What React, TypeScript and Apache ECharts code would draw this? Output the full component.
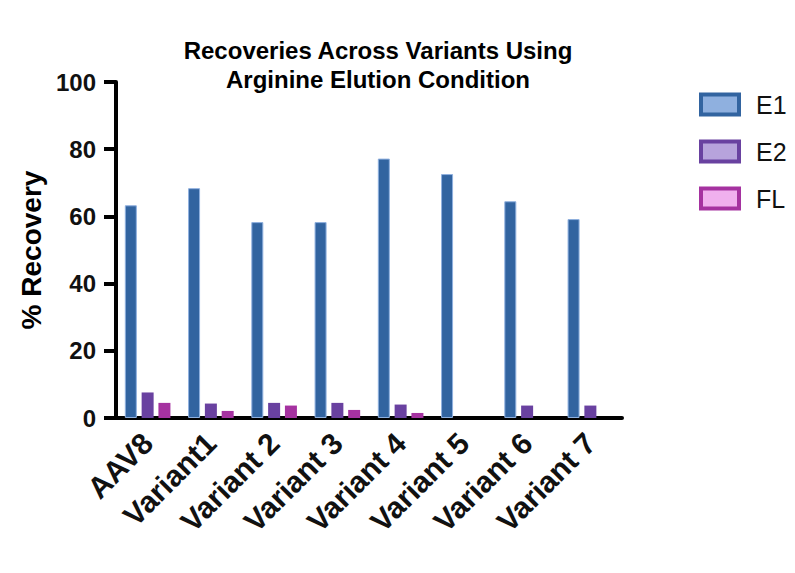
import React, { useEffect, useRef } from 'react'
import * as echarts from 'echarts'

const categories = ['AAV8', 'Variant1', 'Variant 2', 'Variant 3', 'Variant 4', 'Variant 5', 'Variant 6', 'Variant 7']
const e1Values = [63.3, 68.4, 58.3, 58.3, 77.2, 72.6, 64.5, 59.2]
const e2Values = [7.6, 4.3, 4.5, 4.5, 4.0, 0, 3.7, 3.7]
const flValues = [4.5, 2.1, 3.7, 2.4, 1.5, 0, 0, 0]
const yTicks = { min: 0, max: 100, interval: 20 }

const FONT = '"Liberation Sans", Arial, sans-serif'

const App = () => {
  const chartRef = useRef<HTMLDivElement>(null)

  useEffect(() => {
    if (!chartRef.current) return
    const chart = echarts.init(chartRef.current, undefined, { renderer: 'svg' })

    const barSeries = (name: string, data: number[], color: string, border?: string) => ({
      name,
      type: 'bar' as const,
      data,
      barWidth: 12,
      barGap: '40%',
      itemStyle: {
        color,
        borderColor: border || color,
        borderWidth: border ? 1 : 0,
      },
    })

    chart.setOption({
      animation: false,
      backgroundColor: '#ffffff',
      textStyle: { fontFamily: FONT },
      title: {
        text: 'Recoveries Across Variants Using\nArginine Elution Condition',
        left: 378,
        top: 36,
        padding: 0,
        textAlign: 'center',
        textStyle: { fontFamily: FONT, fontSize: 24, fontWeight: 'bold', color: '#000', lineHeight: 29 },
      },
      legend: {
        orient: 'vertical',
        left: 699,
        top: 92,
        padding: 0,
        itemWidth: 38,
        itemHeight: 20,
        itemGap: 22,
        icon: 'rect',
        textStyle: { fontFamily: FONT, fontSize: 25, color: '#111', padding: [0, 0, 0, 12] },
        data: [
          { name: 'E1', itemStyle: { color: '#8fb0df', borderColor: '#3264a0', borderWidth: 4 } },
          { name: 'E2', itemStyle: { color: '#b7a3dc', borderColor: '#6941a0', borderWidth: 4 } },
          { name: 'FL', itemStyle: { color: '#f0b0ee', borderColor: '#a532a0', borderWidth: 4 } },
        ],
      },
      grid: { left: 116, right: 173, top: 82, bottom: 155 },
      xAxis: {
        type: 'category',
        data: categories,
        axisLine: { lineStyle: { color: '#000', width: 4 } },
        axisTick: { alignWithLabel: true, length: 12, lineStyle: { color: '#000', width: 4 } },
        axisLabel: {
          rotate: 45,
          interval: 0,
          margin: 20,
          fontFamily: FONT,
          fontSize: 30,
          fontWeight: 'bold',
          color: '#111',
        },
      },
      yAxis: {
        type: 'value',
        min: yTicks.min,
        max: yTicks.max,
        interval: yTicks.interval,
        name: '% Recovery',
        nameLocation: 'middle',
        nameGap: 70,
        nameTextStyle: { fontFamily: FONT, fontSize: 28, fontWeight: 'bold', color: '#000' },
        axisLine: { show: true, lineStyle: { color: '#000', width: 4 } },
        axisTick: { show: true, length: 12, lineStyle: { color: '#000', width: 4 } },
        splitLine: { show: false },
        axisLabel: { margin: 20, fontFamily: FONT, fontSize: 24, fontWeight: 'bold', color: '#111' },
      },
      series: [
        barSeries('E1', e1Values, '#3264a0', '#8fb0df'),
        barSeries('E2', e2Values, '#6941a0'),
        barSeries('FL', flValues, '#a532a0'),
      ],
    })

    return () => {
      chart.dispose()
    }
  }, [])

  return (
    <div
      ref={chartRef}
      style={{ position: 'absolute', left: 0, top: 0, width: '795px', height: '573px' }}
    />
  )
}

export default App
